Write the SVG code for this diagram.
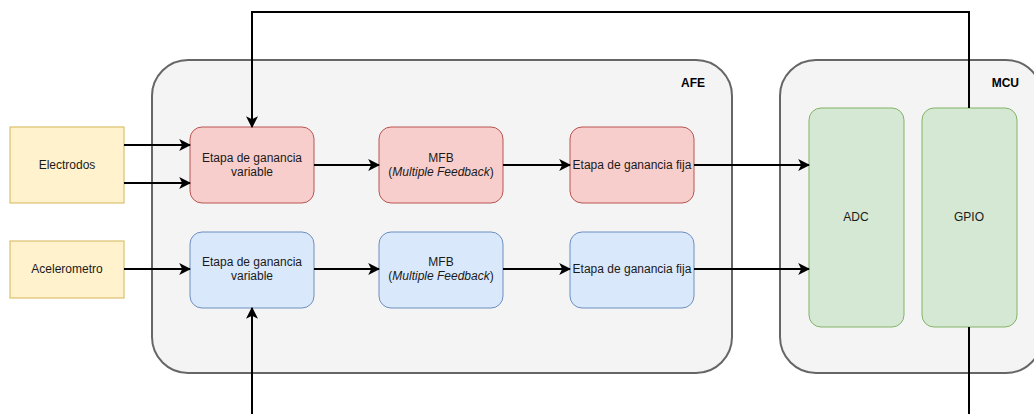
<svg xmlns="http://www.w3.org/2000/svg" width="1034" height="414" viewBox="0 0 1034 414">
  <style>
    text { font-family: "Liberation Sans", Arial, sans-serif; font-size: 12px; fill: #1a1a1a; text-anchor: middle; }
    .title { font-weight: bold; text-anchor: end; fill: #000; }
    .container { fill: #f4f4f4; stroke: #666666; stroke-width: 2; }
    .src { fill: #fff2cc; stroke: #d6b656; stroke-width: 1; }
    .red { fill: #f8cecc; stroke: #b85450; stroke-width: 1; }
    .blue { fill: #dae8fc; stroke: #6c8ebf; stroke-width: 1; }
    .green { fill: #d5e8d4; stroke: #82b366; stroke-width: 1; }
    .wire { fill: none; stroke: #000; stroke-width: 2; }
    .arrow { marker-end: url(#head); }
  </style>
  <defs>
    <marker id="head" viewBox="0 0 10 10" refX="9" refY="5" markerWidth="6" markerHeight="6" markerUnits="strokeWidth" orient="auto">
      <path d="M0,0 L10,5 L0,10 L2.5,5 Z" fill="#000"/>
    </marker>
  </defs>

  <g id="afe">
    <rect class="container" x="152" y="60" width="580" height="313" rx="36" ry="36"/>
    <text class="title" x="705" y="87">AFE</text>
  </g>
  <g id="mcu">
    <rect class="container" x="780" y="60" width="262" height="313" rx="36" ry="36"/>
    <text class="title" x="1019" y="87">MCU</text>
  </g>

  <g id="electrodos">
    <rect class="src" x="10" y="127" width="114" height="76"/>
    <text x="67" y="169">Electrodos</text>
  </g>
  <g id="acelerometro">
    <rect class="src" x="10" y="241" width="114" height="57"/>
    <text x="67" y="273">Acelerometro</text>
  </g>

  <g id="gain-var-ecg">
    <rect class="red" x="190" y="127" width="124" height="76" rx="12" ry="12"/>
    <text x="252" y="162">Etapa de ganancia</text>
    <text x="252" y="176">variable</text>
  </g>
  <g id="mfb-ecg">
    <rect class="red" x="379" y="127" width="124" height="76" rx="12" ry="12"/>
    <text x="441" y="162">MFB</text>
    <text x="441" y="176">(<tspan font-style="italic">Multiple Feedback</tspan>)</text>
  </g>
  <g id="gain-fix-ecg">
    <rect class="red" x="570" y="127" width="124" height="76" rx="12" ry="12"/>
    <text x="632" y="169">Etapa de ganancia fija</text>
  </g>

  <g id="gain-var-acc">
    <rect class="blue" x="190" y="232" width="124" height="76" rx="12" ry="12"/>
    <text x="252" y="266">Etapa de ganancia</text>
    <text x="252" y="280">variable</text>
  </g>
  <g id="mfb-acc">
    <rect class="blue" x="379" y="232" width="124" height="76" rx="12" ry="12"/>
    <text x="441" y="266">MFB</text>
    <text x="441" y="280">(<tspan font-style="italic">Multiple Feedback</tspan>)</text>
  </g>
  <g id="gain-fix-acc">
    <rect class="blue" x="570" y="232" width="124" height="76" rx="12" ry="12"/>
    <text x="632" y="273">Etapa de ganancia fija</text>
  </g>

  <g id="adc">
    <rect class="green" x="809" y="108" width="95" height="219" rx="12" ry="12"/>
    <text x="856" y="221">ADC</text>
  </g>
  <g id="gpio">
    <rect class="green" x="922" y="108" width="95" height="219" rx="12" ry="12"/>
    <text x="969" y="221">GPIO</text>
  </g>

  <g id="connectors">
    <!-- sensor inputs -->
    <line class="wire arrow" x1="124" y1="145" x2="190" y2="145"/>
    <line class="wire arrow" x1="124" y1="183" x2="190" y2="183"/>
    <line class="wire arrow" x1="124" y1="269" x2="190" y2="269"/>
    <!-- ECG chain -->
    <line class="wire arrow" x1="314" y1="165" x2="379" y2="165"/>
    <line class="wire arrow" x1="503" y1="165" x2="570" y2="165"/>
    <line class="wire arrow" x1="694" y1="165" x2="809" y2="165"/>
    <!-- accelerometer chain -->
    <line class="wire arrow" x1="314" y1="269" x2="379" y2="269"/>
    <line class="wire arrow" x1="503" y1="269" x2="570" y2="269"/>
    <line class="wire arrow" x1="694" y1="269" x2="809" y2="269"/>
    <!-- GPIO gain control -->
    <polyline class="wire arrow" points="969,108 969,12 252,12 252,127"/>
    <polyline class="wire arrow" points="969,327 969,420 252,420 252,308"/>
  </g>
</svg>
